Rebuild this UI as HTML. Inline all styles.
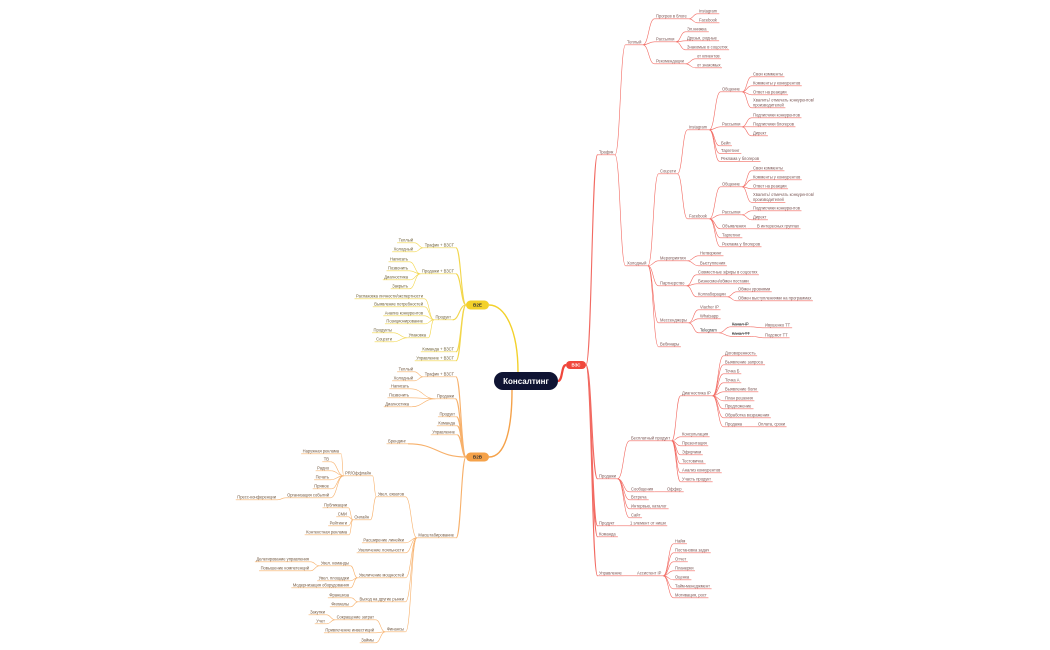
<!DOCTYPE html>
<html><head><meta charset="utf-8">
<style>
html,body{margin:0;padding:0;background:#fff;}
svg{display:block;}
text{font-family:"Liberation Sans",sans-serif;font-size:4.1px;fill:#7a5654;}
.y,.o{text-anchor:end;}
.y{fill:#6e6038;}
.o{fill:#70563e;}
</style></head>
<body>
<svg id="s" width="1050" height="650" viewBox="0 0 1050 650" xmlns="http://www.w3.org/2000/svg">
<g id="lines" fill="none"></g>
<path d="M558,381 C563,381 561,365 566,365" stroke="#f0473c" stroke-width="2.2" fill="none"/>
<path d="M518,372 C518,330 505,305 489,305" stroke="#f3d12a" stroke-width="1.4" fill="none"/>
<path d="M512,390 C512,430 505,457 489,457" stroke="#f5a24a" stroke-width="1.4" fill="none"/>
<rect x="494" y="372" width="64" height="18" rx="9" fill="#0f1433"/>
<text x="526" y="384" style="font-size:8px;font-weight:bold;fill:#fff;text-anchor:middle">Консалтинг</text>
<rect id="vzs" ax="586" ay="365" x="566" y="361" width="20" height="8" rx="4" fill="#f0473c"/>
<text x="576" y="366.6" style="font-size:4.4px;font-weight:bold;fill:#fff;text-anchor:middle">ВЗС</text>
<rect id="b2e" ax="466" ay="305" x="466" y="300.5" width="23" height="9" rx="4.5" fill="#f3d12a"/>
<text x="477.5" y="306.6" style="font-size:4.6px;font-weight:bold;fill:#333;text-anchor:middle">B2E</text>
<rect id="b2b" ax="466" ay="457" x="466" y="452.5" width="23" height="9" rx="4.5" fill="#f5a24a"/>
<text x="477.5" y="458.6" style="font-size:4.6px;font-weight:bold;fill:#333;text-anchor:middle">B2B</text>

<!-- RIGHT -->
<text class="n r" id="t1" p="vzs" x="599" y="153.5">Трафик</text>
<text class="n r" id="t2" p="t1" x="627" y="43.5">Теплый</text>
<text class="n r" id="t3" p="t2" x="656" y="17.5">Прогрев в блоге</text>
<text class="n r" p="t3" x="699" y="12.5">Instagram</text>
<text class="n r" p="t3" x="699" y="21.5">Facebook</text>
<text class="n r" id="t4" p="t2" x="656" y="40.5">Рассылки</text>
<text class="n r" p="t4" x="687" y="30.5">Эл.книжка</text>
<text class="n r" p="t4" x="687" y="39.5">Друзья, родные</text>
<text class="n r" p="t4" x="687" y="48.5">Знакомые в соцсетях</text>
<text class="n r" id="t5" p="t2" x="656" y="62.5">Рекомендации</text>
<text class="n r" p="t5" x="697" y="57.5">от клиентов</text>
<text class="n r" p="t5" x="697" y="66.5">от знакомых</text>
<text class="n r" id="t6" p="t1" x="627" y="264.5">Холодный</text>
<text class="n r" id="t7" p="t6" x="660" y="172.5">Соцсети</text>
<text class="n r" id="t8" p="t7" x="689" y="128.5">Instagram</text>
<text class="n r" id="t9" p="t8" x="722" y="90.5">Общение</text>
<text class="n r" p="t9" x="753" y="75.5">Свои комменты</text>
<text class="n r" p="t9" x="753" y="84.5">Комменты у конкурентов</text>
<text class="n r" p="t9" x="753" y="93.5">Ответ на реакции</text>
<text x="753" y="101.5">Хвалить/ отмечать конкурентов/</text>
<text class="n r" p="t9" x="753" y="106.5">производителей</text>
<text class="n r" id="t10" p="t8" x="722" y="125.5">Рассылки</text>
<text class="n r" p="t10" x="753" y="116.5">Подписчики конкурентов</text>
<text class="n r" p="t10" x="753" y="125.5">Подписчики блогеров</text>
<text class="n r" p="t10" x="753" y="134.5">Директ</text>
<text class="n r" p="t8" x="721" y="144.5">Бейп</text>
<text class="n r" p="t8" x="721" y="152">Таргетинг</text>
<text class="n r" p="t8" x="721" y="160">Реклама у блогеров</text>
<text class="n r" id="t11" p="t7" x="689" y="217.5">Facebook</text>
<text class="n r" id="t12" p="t11" x="722" y="185.5">Общение</text>
<text class="n r" p="t12" x="753" y="169.5">Свои комменты</text>
<text class="n r" p="t12" x="753" y="178.5">Комменты у конкурентов</text>
<text class="n r" p="t12" x="753" y="187.5">Ответ на реакции</text>
<text x="753" y="196">Хвалить/ отмечать конкурентов/</text>
<text class="n r" p="t12" x="753" y="201">производителей</text>
<text class="n r" id="t13" p="t11" x="722" y="213.5">Рассылки</text>
<text class="n r" p="t13" x="753" y="209.5">Подписчики конкурентов</text>
<text class="n r" p="t13" x="753" y="218.5">Директ</text>
<text class="n r" id="t14" p="t11" x="722" y="227.5">Объявления</text>
<text class="n r" p="t14" x="757" y="227.5">В интересных группах</text>
<text class="n r" p="t11" x="722" y="236.5">Таргетинг</text>
<text class="n r" p="t11" x="722" y="245.5">Реклама у блогеров</text>
<text class="n r" id="t15" p="t6" x="660" y="259.5">Мероприятия</text>
<text class="n r" p="t15" x="700" y="254.5">Нетворкинг</text>
<text class="n r" p="t15" x="700" y="264.5">Выступления</text>
<text class="n r" id="t16" p="t6" x="660" y="284.5">Партнерство</text>
<text class="n r" p="t16" x="698" y="273.5">Совместные эфиры в соцсетях</text>
<text class="n r" p="t16" x="698" y="282.5">Бизнесмен/обмен постами</text>
<text class="n r" id="t17" p="t16" x="698" y="295.5">Коллаборации</text>
<text class="n r" p="t17" x="738" y="290.5">Обмен уровнями</text>
<text class="n r" p="t17" x="738" y="299.5">Обмен выступлениями на программах</text>
<text class="n r" id="t18" p="t6" x="660" y="321.5">Мессенджеры</text>
<text class="n r" p="t18" x="700" y="308.5">Viacher    IP</text>
<text class="n r" p="t18" x="700" y="317.5">Whatsapp</text>
<text class="n r" id="t19" p="t18" x="700" y="331.5" style="fill:#333">Telegram</text>
<text class="n r" id="t20" p="t19" x="732" y="325.5" style="fill:#333;text-decoration:line-through">Канал IP</text>
<text class="n r" p="t20" x="765" y="326.5">Ивушенко ТТ</text>
<text class="n r" id="t21" p="t19" x="732" y="335" style="fill:#333;text-decoration:line-through">Канал TT</text>
<text class="n r" p="t21" x="765" y="336.5">Подсмот ТТ</text>
<text class="n r" p="t6" x="660" y="345.5">Вебинары</text>

<text class="n r" id="t30" p="vzs" x="599" y="477.5">Продажи</text>
<text class="n r" id="t31" p="t30" x="631" y="439.5">Бесплатный продукт</text>
<text class="n r" id="t32" p="t31" x="682" y="394.5">Диагностика    IP</text>
<text class="n r" p="t32" x="725" y="354.5">Договоренность</text>
<text class="n r" p="t32" x="725" y="363.5">Выявление запроса</text>
<text class="n r" p="t32" x="725" y="372.5">Точка Б</text>
<text class="n r" p="t32" x="725" y="381.5">Точка А</text>
<text class="n r" p="t32" x="725" y="390.5">Выявление боли</text>
<text class="n r" p="t32" x="725" y="399.5">План решения</text>
<text class="n r" p="t32" x="725" y="407.5">Предложение</text>
<text class="n r" p="t32" x="725" y="416.5">Обработка возражения</text>
<text class="n r" id="t33" p="t32" x="725" y="425.5">Продажа</text>
<text class="n r" p="t33" x="758" y="425.5">Оплата, сроки</text>
<text class="n r" p="t31" x="682" y="435.5">Консультация</text>
<text class="n r" p="t31" x="682" y="444.5">Презентация</text>
<text class="n r" p="t31" x="682" y="453.5">Эфирчики</text>
<text class="n r" p="t31" x="682" y="462.5">Тестовичка</text>
<text class="n r" p="t31" x="682" y="471.5">Анализ конкурентов</text>
<text class="n r" p="t31" x="682" y="480.5">Участь продукт</text>
<text class="n r" id="t34" p="t30" x="631" y="490.5">Сообщения</text>
<text class="n r" p="t34" x="667" y="490.5">Оффер</text>
<text class="n r" p="t30" x="631" y="498.5">Встреча</text>
<text class="n r" p="t30" x="631" y="507.5">Интервью, каталог</text>
<text class="n r" p="t30" x="631" y="516.5">Сайт</text>
<text class="n r" id="t35" p="vzs" x="599" y="524.5">Продукт</text>
<text class="n r" p="t35" x="630" y="524.5">1 элемент от ниши</text>
<text class="n r" p="vzs" x="599" y="535.5">Команда</text>
<text class="n r" id="t36" p="vzs" x="599" y="574.5">Управление</text>
<text class="n r" id="t37" p="t36" x="637" y="574.5">Ассистент    IP</text>
<text class="n r" p="t37" x="675" y="542.5">Найм</text>
<text class="n r" p="t37" x="675" y="551.5">Постановка задач</text>
<text class="n r" p="t37" x="675" y="560.5">Отчет</text>
<text class="n r" p="t37" x="675" y="569.5">Планерки</text>
<text class="n r" p="t37" x="675" y="578.5">Оценка</text>
<text class="n r" p="t37" x="675" y="587.5">Тайм-менеджмент</text>
<text class="n r" p="t37" x="675" y="596.5">Мотивация, рост</text>

<!-- B2E -->
<text class="n y" id="y1" p="b2e" x="454" y="246.5">Трафик + ВЗСТ</text>
<text class="n y" p="y1" x="413" y="241.5">Теплый</text>
<text class="n y" p="y1" x="413" y="250.5">Холодный</text>
<text class="n y" id="y2" p="b2e" x="454" y="272.5">Продажи + ВЗСТ</text>
<text class="n y" p="y2" x="408" y="260.5">Написать</text>
<text class="n y" p="y2" x="408" y="269.5">Позвонить</text>
<text class="n y" p="y2" x="408" y="278.5">Диагностика</text>
<text class="n y" p="y2" x="408" y="287.5">Закрыть</text>
<text class="n y" id="y3" p="b2e" x="451" y="318.5">Продукт</text>
<text class="n y" p="y3" x="423" y="297.5">Распаковка личности/экспертности</text>
<text class="n y" p="y3" x="423" y="305.5">Выявление потребностей</text>
<text class="n y" p="y3" x="423" y="314.5">Анализ конкурентов</text>
<text class="n y" p="y3" x="423" y="322.5">Позиционирование</text>
<text class="n y" id="y4" p="y3" x="426" y="336.5">Упаковка</text>
<text class="n y" p="y4" x="392" y="331.5">Продукты</text>
<text class="n y" p="y4" x="392" y="340.5">Соцсети</text>
<text class="n y" p="b2e" x="454" y="350.5">Команда + ВЗСТ</text>
<text class="n y" p="b2e" x="454" y="359.5">Управление + ВЗСТ</text>

<!-- B2B -->
<text class="n o" id="o1" p="b2b" x="454" y="375.5">Трафик + ВЗСТ</text>
<text class="n o" p="o1" x="413" y="370.5">Теплый</text>
<text class="n o" p="o1" x="413" y="379.5">Холодный</text>
<text class="n o" id="o2" p="b2b" x="454" y="397.5">Продажи</text>
<text class="n o" p="o2" x="409" y="387.5">Написать</text>
<text class="n o" p="o2" x="409" y="396.5">Позвонить</text>
<text class="n o" p="o2" x="409" y="405.5">Диагностика</text>
<text class="n o" p="b2b" x="455" y="415.5">Продукт</text>
<text class="n o" p="b2b" x="455" y="424.5">Команда</text>
<text class="n o" p="b2b" x="455" y="433.5">Управление</text>
<text class="n o" p="b2b" x="406" y="442.5">Брендинг</text>
<text class="n o" id="o3" p="b2b" x="454" y="536.5">Масштабирование</text>
<text class="n o" id="o4" p="o3" x="404" y="495.5">Увел. охватов</text>
<text class="n o" id="o5" p="o4" x="371" y="474.5">PR/Оффлайн</text>
<text class="n o" p="o5" x="339" y="452.5">Наружная реклама</text>
<text class="n o" p="o5" x="329" y="460.5">ТВ</text>
<text class="n o" p="o5" x="329" y="469.5">Радио</text>
<text class="n o" p="o5" x="329" y="478.5">Печать</text>
<text class="n o" p="o5" x="329" y="487.5">Прямое</text>
<text class="n o" id="o6" p="o5" x="329" y="496.5">Организация событий</text>
<text class="n o" p="o6" x="276" y="498.5">Пресс-конференции</text>
<text class="n o" id="o7" p="o4" x="369" y="518.5">Онлайн</text>
<text class="n o" p="o7" x="347" y="506.5">Публикации</text>
<text class="n o" p="o7" x="347" y="515.5">СМИ</text>
<text class="n o" p="o7" x="347" y="524.5">Рейтинги</text>
<text class="n o" p="o7" x="347" y="533.5">Контекстная реклама</text>
<text class="n o" p="o3" x="404" y="541.5">Расширение линейки</text>
<text class="n o" p="o3" x="404" y="551.5">Увеличение лояльности</text>
<text class="n o" id="o8" p="o3" x="404" y="576.5">Увеличение мощностей</text>
<text class="n o" id="o9" p="o8" x="349" y="564.5">Увел. команды</text>
<text class="n o" p="o9" x="309" y="560.5">Делегирование управления</text>
<text class="n o" p="o9" x="309" y="569.5">Повышение компетенций</text>
<text class="n o" p="o8" x="349" y="579.5">Увел. площадки</text>
<text class="n o" p="o8" x="349" y="586.5">Модернизация оборудования</text>
<text class="n o" id="o10" p="o3" x="404" y="600.5">Выход на другие рынки</text>
<text class="n o" p="o10" x="349" y="596.5">Франшиза</text>
<text class="n o" p="o10" x="349" y="605.5">Филиалы</text>
<text class="n o" id="o11" p="o3" x="404" y="630.5">Финансы</text>
<text class="n o" id="o12" p="o11" x="374" y="618.5">Сокращение затрат</text>
<text class="n o" p="o12" x="325" y="613.5">Закупки</text>
<text class="n o" p="o12" x="325" y="622.5">Учет</text>
<text class="n o" p="o11" x="374" y="631.5">Привлечение инвестиций</text>
<text class="n o" p="o11" x="374" y="641.5">Займы</text>
</svg>
<script>
(function(){
var NS='http://www.w3.org/2000/svg';
var lines=document.getElementById('lines');
var col={r:'#f26a62',y:'#f2d64b',o:'#f7b06a'};
function add(tag,a){var e=document.createElementNS(NS,tag);for(var k in a)e.setAttribute(k,a[k]);lines.appendChild(e);return e;}
function anc(el){
  if(el.tagName.toLowerCase()==='rect'){var x=+el.getAttribute('ax'),y=+el.getAttribute('ay');return {l:[x,y],r:[x,y],pill:true};}
  var b=el.getBBox();var y=+el.getAttribute('y')+1.3;
  return {l:[b.x-1.5,y],r:[b.x+b.width+1.5,y],pill:false};
}
var ts=document.querySelectorAll('text.n');
for(var i=0;i<ts.length;i++){
  var t=ts[i];var c=t.classList.contains('r')?'r':(t.classList.contains('y')?'y':'o');
  var a=anc(t);
  add('line',{x1:a.l[0],y1:a.l[1],x2:a.r[0],y2:a.r[1],stroke:col[c],'stroke-width':0.6});
  var pid=t.getAttribute('p');if(!pid)continue;
  var p=document.getElementById(pid);if(!p)continue;
  var pa=anc(p);var s,e;
  if(c==='r'){s=pa.r;e=a.l;}else{s=pa.l;e=a.r;}
  var mx=s[0]+(e[0]-s[0])*0.5;
  add('path',{d:'M'+s[0]+','+s[1]+' C'+mx+','+s[1]+' '+mx+','+e[1]+' '+e[0]+','+e[1],stroke:col[c],'stroke-width':pa.pill?1.1:0.6,fill:'none'});
}
})();
</script>
</body></html>
